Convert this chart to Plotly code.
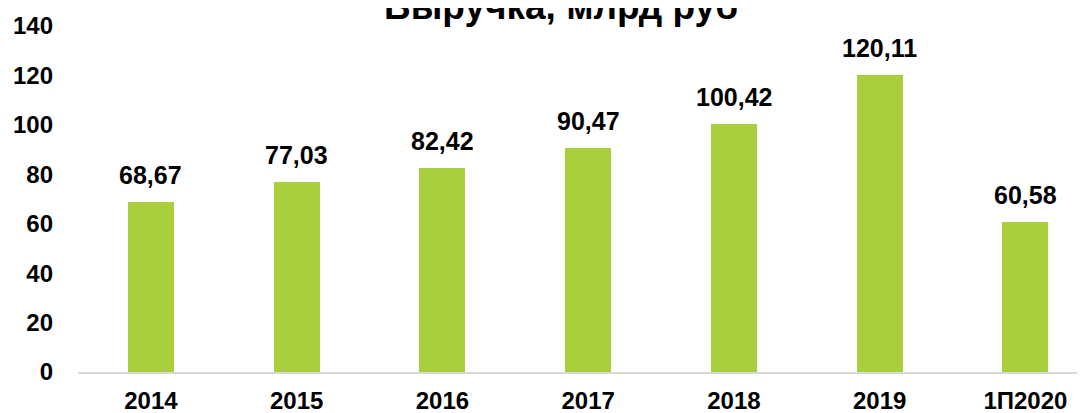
import plotly.graph_objects as go

categories = ["2014", "2015", "2016", "2017", "2018", "2019", "1П2020"]
values = [68.67, 77.03, 82.42, 90.47, 100.42, 120.11, 60.58]
value_labels = ["68,67", "77,03", "82,42", "90,47", "100,42", "120,11", "60,58"]
y_ticks = [0, 20, 40, 60, 80, 100, 120, 140]
title_text = "Выручка, млрд руб"

W, H = 1085, 413
FONT = "Arial, 'Liberation Sans', sans-serif"
GREEN = "#A9D03C"
PAGE_OFFSET = 8  # default body margin of the html page

fig = go.Figure()
fig.add_trace(go.Bar(
    x=list(range(len(categories))),
    y=values,
    width=0.316,
    marker=dict(color=GREEN, line=dict(width=0)),
    hoverinfo="skip",
))

for i, (v, lab) in enumerate(zip(values, value_labels)):
    fig.add_annotation(
        x=i, y=v, xref="x", yref="y",
        text="<b>%s</b>" % lab, showarrow=False,
        yanchor="bottom", yshift=11,
        font=dict(family=FONT, size=25, color="#000000"),
    )

margin_l = 78 - PAGE_OFFSET
margin_t = 26 - PAGE_OFFSET
margin_b = H - (372 - PAGE_OFFSET)
margin_r = 0
plot_w = W - margin_l - margin_r

fig.add_annotation(
    x=(561 - PAGE_OFFSET - margin_l) / plot_w, y=1, xref="paper", yref="paper",
    yshift=-3, yanchor="bottom",
    text="<b>%s</b>" % title_text, showarrow=False,
    font=dict(family=FONT, size=37, color="#000000"),
)

fig.update_layout(
    width=W, height=H,
    margin=dict(l=margin_l, r=margin_r, t=margin_t, b=margin_b, pad=0, autoexpand=False),
    paper_bgcolor="white", plot_bgcolor="white",
    showlegend=False,
    bargap=0,
    xaxis=dict(
        tickmode="array",
        tickvals=list(range(len(categories))),
        ticktext=["<b>%s</b>" % c for c in categories],
        range=[-0.5, -0.5 + plot_w / 145.75],
        showgrid=False, zeroline=False,
        showline=True, linecolor="#D9D9D9", linewidth=2,
        ticks="", ticklabelstandoff=6, automargin=False,
        tickfont=dict(family=FONT, size=24, color="#000000"),
        fixedrange=True,
    ),
    yaxis=dict(
        range=[0, 140],
        tickmode="array",
        tickvals=y_ticks,
        ticktext=["<b>%d</b>" % t for t in y_ticks],
        showgrid=False, zeroline=False, showline=False,
        ticks="", ticklabelstandoff=24, automargin=False,
        tickfont=dict(family=FONT, size=24, color="#000000"),
        fixedrange=True,
    ),
)

fig.write_html("out.html")
